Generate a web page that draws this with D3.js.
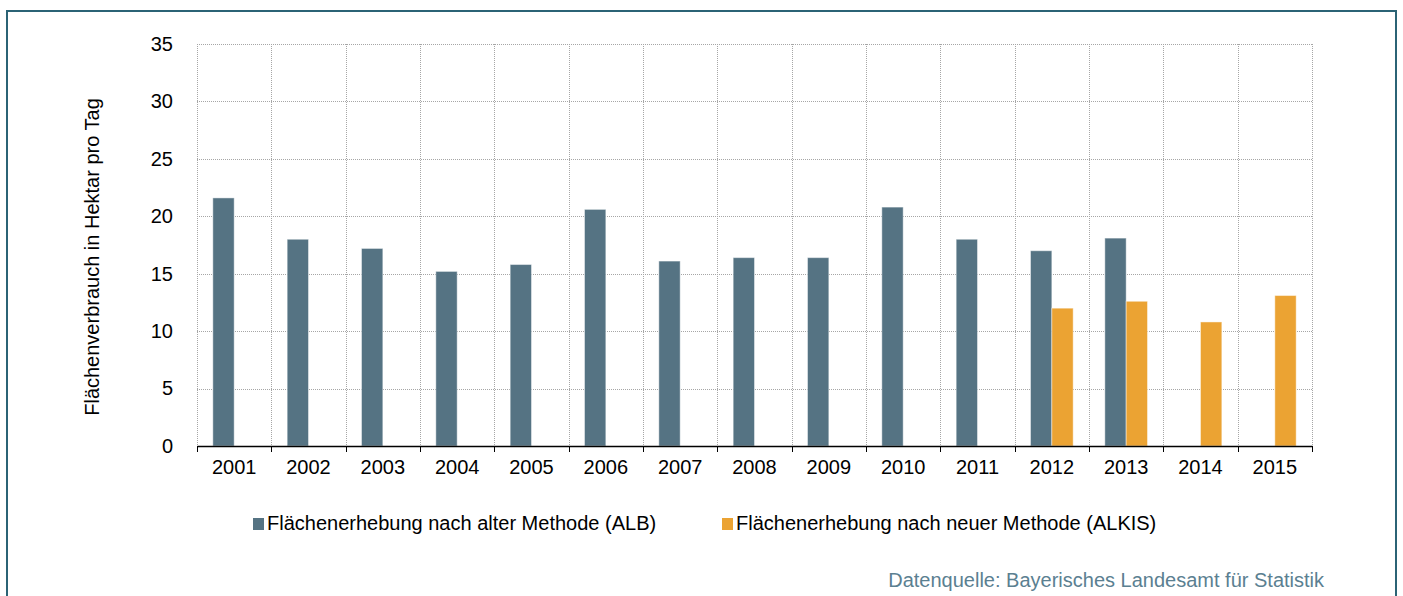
<!DOCTYPE html>
<html><head><meta charset="utf-8">
<script src="https://cdn.jsdelivr.net/npm/d3@7"></script>
<style>
html,body{margin:0;padding:0;background:#fff;}
svg{display:block;font-family:"Liberation Sans",Arial,sans-serif;}
</style></head>
<body>
<svg id="chart" width="1403" height="596"></svg>
<script>
const years = ["2001","2002","2003","2004","2005","2006","2007","2008","2009","2010","2011","2012","2013","2014","2015"];
const albValues = [21.6,18.0,17.2,15.2,15.8,20.6,16.1,16.4,16.4,20.8,18.0,17.0,18.1,null,null];
const alkisValues = [null,null,null,null,null,null,null,null,null,null,null,12.0,12.6,10.8,13.1];
const seriesNames = ["Flächenerhebung nach alter Methode (ALB)","Flächenerhebung nach neuer Methode (ALKIS)"];
const seriesKeys = ["alb","alkis"];
const seriesColors = ["#557383","#eba333"];
const yTicks = [0,5,10,15,20,25,30,35];
const yTitle = "Flächenverbrauch in Hektar pro Tag";
const sourceText = "Datenquelle: Bayerisches Landesamt für Statistik";

(function(){
const svg = d3.select("#chart");
const pLeft = 197, pRight = 1312, pTop = 44, pBottom = 446;
const FS = 20;

// frame
svg.append("path")
  .attr("d", `M7,600 L7,11 L1396,11 L1396,600`)
  .attr("fill","none").attr("stroke","#2b6375").attr("stroke-width",2);

const x = d3.scaleBand().domain(years).range([pLeft,pRight]).paddingInner(0).paddingOuter(0);
const x1 = d3.scaleBand().domain(seriesKeys).range([x.bandwidth()*0.213, x.bandwidth()*0.787]);
const y = d3.scaleLinear().domain([0,35]).range([pBottom,pTop]);

const data = years.map((yr,i)=>({year:yr, alb:albValues[i], alkis:alkisValues[i]}));

// grid
const grid = svg.append("g");
grid.selectAll("line.h").data(yTicks.filter(t=>t>0)).join("line")
  .attr("x1",pLeft).attr("x2",pRight)
  .attr("y1",d=>Math.round(y(d))+0.5).attr("y2",d=>Math.round(y(d))+0.5)
  .attr("stroke","#a6a6a6").attr("stroke-width",1).attr("stroke-dasharray","1,1");
const vlines = years.map(yr=>x(yr)).concat([pRight]);
grid.selectAll("line.v").data(vlines).join("line")
  .attr("x1",d=>Math.round(d)+0.5).attr("x2",d=>Math.round(d)+0.5)
  .attr("y1",pTop).attr("y2",pBottom)
  .attr("stroke","#a6a6a6").attr("stroke-width",1).attr("stroke-dasharray","1,1");

// bars
const groups = svg.append("g").selectAll("g").data(data).join("g")
  .attr("transform",d=>`translate(${x(d.year)},0)`);
groups.selectAll("rect").data(d=>seriesKeys.map((k,i)=>({key:k, value:d[k], color:seriesColors[i]})).filter(e=>e.value!=null))
  .join("rect")
  .attr("x",d=>x1(d.key)).attr("width",x1.bandwidth())
  .attr("y",d=>y(d.value)).attr("height",d=>y(0)-y(d.value))
  .attr("fill",d=>d.color)
  .attr("stroke","rgba(255,255,255,0.45)").attr("stroke-width",1);

// x axis
const xAxis = d3.axisBottom(x).tickSize(0).tickPadding(14);
const gx = svg.append("g").attr("transform",`translate(0,${pBottom})`).call(xAxis);
gx.select(".domain").attr("stroke","#000").attr("stroke-width",1.5);
gx.selectAll("text").attr("font-size",FS).attr("fill","#000").attr("font-family","Liberation Sans, Arial, sans-serif");
gx.selectAll("line.bt").data(vlines).join("line").attr("class","bt")
  .attr("x1",d=>Math.round(d)+0.5).attr("x2",d=>Math.round(d)+0.5)
  .attr("y1",0).attr("y2",6).attr("stroke","#000");

// y axis
const yAxis = d3.axisLeft(y).tickValues(yTicks).tickSize(0).tickPadding(24);
const gy = svg.append("g").attr("transform",`translate(${pLeft},0)`).call(yAxis);
gy.select(".domain").remove();
gy.selectAll("text").attr("font-size",FS).attr("fill","#000").attr("font-family","Liberation Sans, Arial, sans-serif");

svg.append("text").attr("transform","translate(99,257) rotate(-90)")
  .attr("text-anchor","middle").attr("font-size",FS).attr("fill","#000").text(yTitle);

// legend
const legX = [253,722];
const leg = svg.append("g").selectAll("g").data(seriesNames).join("g")
  .attr("transform",(d,i)=>`translate(${legX[i]},518)`);
leg.append("rect").attr("width",11).attr("height",12).attr("fill",(d,i)=>seriesColors[i]);
leg.append("text").attr("x",14).attr("y",12).attr("font-size",FS).attr("fill","#000").text(d=>d);

svg.append("text").attr("x",1324).attr("y",587).attr("text-anchor","end")
  .attr("font-size",FS).attr("fill","#5b8091").text(sourceText);
})();
</script>
</body></html>
